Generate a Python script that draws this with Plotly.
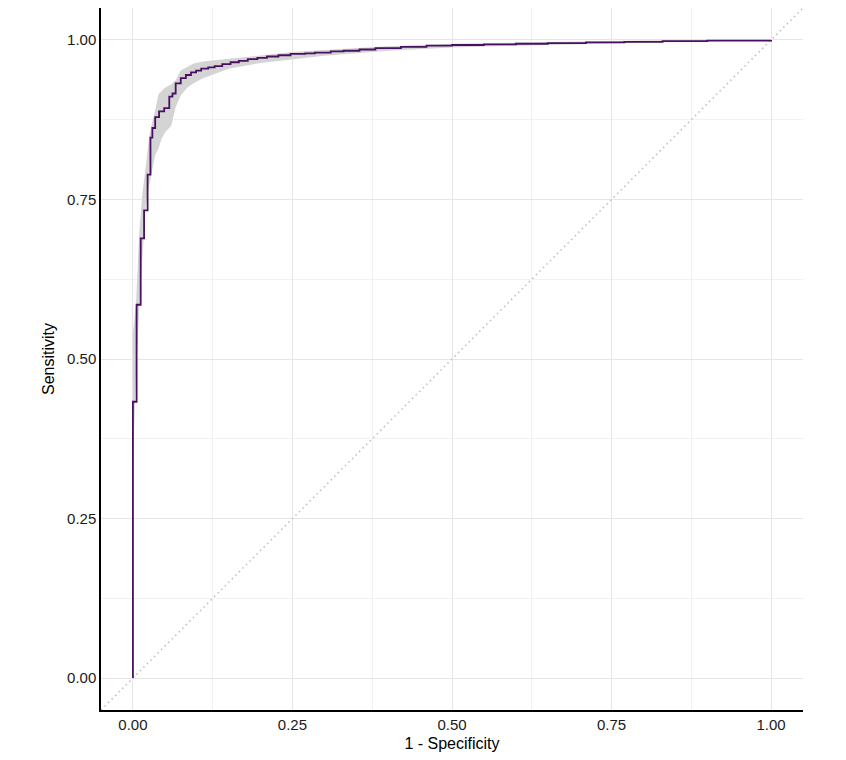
import plotly.graph_objects as go

# ROC curve (step points: x where the vertical rise occurs, y at top of rise)
roc_fpr = [0, 0, 0.0058, 0.0122, 0.0175, 0.023, 0.0275, 0.0305, 0.0349, 0.041, 0.049,
           0.057, 0.062, 0.067, 0.075, 0.083, 0.091, 0.099, 0.107, 0.118, 0.128,
           0.140, 0.153, 0.166, 0.18, 0.195, 0.21, 0.228, 0.247, 0.27, 0.285,
           0.31, 0.33, 0.355, 0.38, 0.42, 0.46, 0.50, 0.55, 0.60, 0.65, 0.71,
           0.77, 0.83, 0.9, 1.0]
roc_tpr = [0, 0.433, 0.585, 0.689, 0.733, 0.789, 0.847, 0.862, 0.879, 0.888, 0.893,
           0.911, 0.916, 0.932, 0.940, 0.945, 0.949, 0.952, 0.955, 0.957, 0.959,
           0.962, 0.965, 0.967, 0.970, 0.972, 0.974, 0.976, 0.978, 0.979, 0.980,
           0.982, 0.983, 0.985, 0.987, 0.989, 0.991, 0.992, 0.993, 0.994, 0.995, 0.996,
           0.997, 0.998, 0.999, 1.0]

# Confidence band for sensitivity
band_fpr = [0, 0.005, 0.01, 0.015, 0.02, 0.025, 0.03, 0.035, 0.04, 0.045, 0.05, 0.06,
            0.067, 0.075, 0.085, 0.095, 0.11, 0.13, 0.15, 0.2, 0.25, 0.3, 0.4, 0.5,
            0.6, 0.7, 0.8, 0.9, 1.0]
band_upper = [0.54, 0.59, 0.70, 0.76, 0.80, 0.845, 0.87, 0.89, 0.915, 0.92, 0.925, 0.93,
              0.937, 0.952, 0.958, 0.963, 0.966, 0.968, 0.970, 0.976, 0.981, 0.984, 0.99,
              0.994, 0.996, 0.998, 0.999, 1.0, 1.0]
band_lower = [0.33, 0.48, 0.58, 0.66, 0.74, 0.77, 0.795, 0.82, 0.83, 0.845, 0.855, 0.865,
              0.895, 0.913, 0.925, 0.932, 0.940, 0.948, 0.955, 0.964, 0.970, 0.975, 0.983,
              0.988, 0.991, 0.993, 0.995, 0.997, 1.0]

diag = [-0.05, 1.05]
tick_vals = [0, 0.25, 0.5, 0.75, 1.0]
tick_text = ["0.00", "0.25", "0.50", "0.75", "1.00"]

fig = go.Figure()
fig.add_trace(go.Scatter(x=band_fpr, y=band_lower, mode="lines", line=dict(width=0),
                         showlegend=False, hoverinfo="skip"))
fig.add_trace(go.Scatter(x=band_fpr, y=band_upper, mode="lines", line=dict(width=0),
                         fill="tonexty", fillcolor="#d4d4d4", showlegend=False, hoverinfo="skip"))
fig.add_trace(go.Scatter(x=diag, y=diag, mode="lines",
                         line=dict(color="#bdbdbd", width=1.5, dash="1.5px,3.5px"),
                         showlegend=False))
fig.add_trace(go.Scatter(x=roc_fpr, y=roc_tpr, mode="lines", line_shape="hv",
                         line=dict(color="#4a1060", width=1.8), showlegend=False))

axis_common = dict(
    range=[-0.05, 1.05], tickvals=tick_vals, ticktext=tick_text,
    showgrid=True, gridcolor="#e6e6e6", gridwidth=1,
    minor=dict(tick0=0.125, dtick=0.25, showgrid=True, gridcolor="#f1f1f1", gridwidth=1),
    zeroline=False, showline=True, linecolor="black", linewidth=1.5,
    ticks="", tickfont=dict(family="Liberation Sans, Arial", size=15, color="#1a1a1a"),
    fixedrange=True,
)

fig.update_layout(
    width=846, height=760,
    margin=dict(l=93, r=51, t=0, b=58),
    paper_bgcolor="white", plot_bgcolor="white",
    xaxis=dict(**axis_common, title=dict(text="1 - Specificity", standoff=6,
               font=dict(family="Liberation Sans, Arial", size=16, color="black"))),
    yaxis=dict(**axis_common, title=dict(text="Sensitivity", standoff=8,
               font=dict(family="Liberation Sans, Arial", size=16, color="black"))),
)

fig.write_html("out.html")
